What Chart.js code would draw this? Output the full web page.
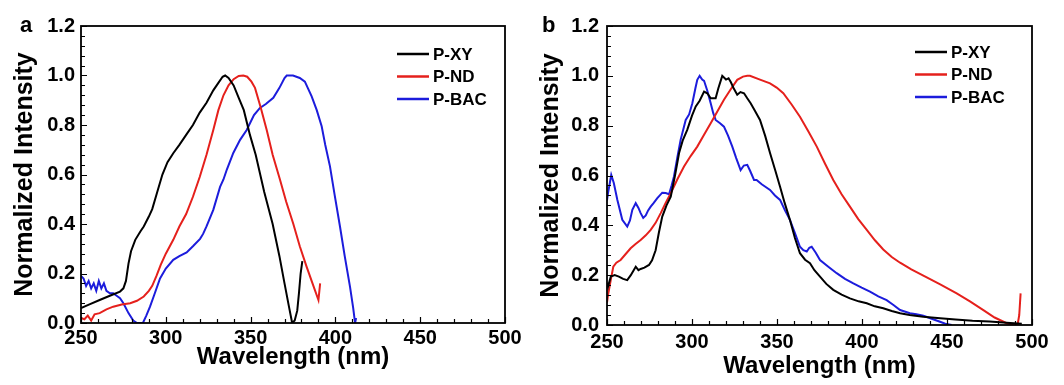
<!DOCTYPE html>
<html>
<head>
<meta charset="utf-8">
<script src="https://cdn.jsdelivr.net/npm/chart.js@4.4.1/dist/chart.umd.min.js"></script>
<style>
  body { margin: 0; background: #fff; font-family: "Liberation Sans", Arial, sans-serif; }
  #wrap { position: relative; width: 1064px; height: 385px; }
  canvas { position: absolute; top: 0; }
  .tag { position: absolute; font-weight: bold; font-size: 22px; line-height: 1; }
</style>
</head>
<body>
<div id="wrap">
  <canvas id="chartA" width="530" height="385" style="left:0"></canvas>
  <canvas id="chartB" width="534" height="385" style="left:530px"></canvas>
  <div class="tag" style="left:20px; top:14px">a</div>
  <div class="tag" style="left:542px; top:14px">b</div>
</div>
<script>
// series names and axis ticks
const seriesNames = ['P-XY', 'P-ND', 'P-BAC'];
const seriesColors = ['#000000', '#e5201c', '#1c1cdc'];
const xTicks = [250, 300, 350, 400, 450, 500];
const yTicks = [0, 0.2, 0.4, 0.6, 0.8, 1.0, 1.2];

// panel a (excitation)
const aWlXY = [250, 255, 261, 267, 273, 275, 276.5, 278, 279.5, 282, 285, 287, 290, 292, 295, 298, 301, 304.5, 308, 312, 316, 320, 324, 328, 331, 333.5, 335, 337, 340, 343, 346, 349.6, 353, 358, 363, 367, 370, 372.5, 374.5, 376, 377.5, 378.5, 379.5, 380.5];
const aInXY = [0.06, 0.075, 0.093, 0.11, 0.127, 0.14, 0.17, 0.24, 0.29, 0.336, 0.37, 0.39, 0.43, 0.46, 0.53, 0.6, 0.65, 0.687, 0.72, 0.76, 0.8, 0.85, 0.89, 0.94, 0.97, 0.995, 1.0, 0.99, 0.96, 0.91, 0.86, 0.76, 0.68, 0.53, 0.4, 0.27, 0.16, 0.07, 0.0, 0.01, 0.05, 0.12, 0.2, 0.25];

const aWlND = [250, 252, 254, 256, 258, 261, 265, 269, 274, 279, 283, 287, 290, 292, 294.5, 297, 300, 304.4, 308, 312, 316, 320, 324, 328, 331, 334, 337, 340, 343, 345.7, 348, 350.5, 352.6, 356, 359.5, 363, 367.3, 371, 375.2, 379, 383, 386.5, 390, 391];
const aInND = [0.02, 0.015, 0.03, 0.01, 0.035, 0.04, 0.055, 0.066, 0.075, 0.08, 0.09, 0.107, 0.13, 0.15, 0.19, 0.235, 0.28, 0.336, 0.39, 0.44, 0.51, 0.59, 0.68, 0.78, 0.86, 0.92, 0.96, 0.985, 0.998, 1.0, 0.995, 0.975, 0.95, 0.87, 0.78, 0.68, 0.58, 0.49, 0.4, 0.31, 0.228, 0.16, 0.093, 0.16];

const aWlBAC = [250, 251.5, 253, 254.5, 256, 257.5, 259, 260.5, 262, 263.5, 265, 267, 269, 271, 273, 275, 278, 280.8, 283, 286.5, 288.5, 290.7, 293, 296.6, 300, 304.4, 308, 312.3, 316, 320.2, 322, 324, 328, 332, 334, 336, 339.8, 343.8, 347.7, 352, 355.5, 359, 363.4, 367, 370, 371.3, 375, 379, 382, 386, 389, 391.9, 394, 396.8, 399.5, 402.7, 405.5, 408.6, 410.5, 411.6, 412.2];
const aInBAC = [0.19, 0.18, 0.15, 0.17, 0.14, 0.16, 0.13, 0.17, 0.14, 0.16, 0.13, 0.12, 0.12, 0.11, 0.1, 0.08, 0.04, 0.01, 0.0, 0.0, 0.03, 0.066, 0.11, 0.18, 0.22, 0.255, 0.27, 0.285, 0.31, 0.34, 0.36, 0.39, 0.457, 0.55, 0.58, 0.62, 0.687, 0.74, 0.78, 0.84, 0.869, 0.885, 0.91, 0.95, 0.99, 1.0, 1.0, 0.99, 0.975, 0.916, 0.86, 0.795, 0.72, 0.633, 0.52, 0.39, 0.27, 0.147, 0.06, 0.0, 0.02];

// panel b (emission)
const bWlXY = [250, 250.6, 252.2, 254.5, 257, 259.5, 261.9, 264, 266.9, 268.5, 269.8, 272, 274.7, 276.5, 278.6, 280.5, 282.5, 285, 287.5, 290, 292.4, 294.5, 297.2, 300, 302.2, 304.5, 307.1, 309, 311, 313.9, 315.5, 317.8, 320, 321.5, 322.8, 324.5, 326.6, 328.5, 330.6, 332.5, 334.5, 337, 340, 343, 345.9, 349, 351.8, 354.5, 357.6, 360.5, 363.5, 366.5, 369.4, 372, 375.3, 379, 383.1, 388, 392.9, 398, 402.8, 407.5, 412.5, 417.5, 422.4, 428, 436, 446, 455, 465, 475, 485, 494];
const bInXY = [0.17, 0.154, 0.194, 0.2, 0.194, 0.185, 0.18, 0.2, 0.234, 0.22, 0.225, 0.23, 0.241, 0.26, 0.3, 0.37, 0.435, 0.48, 0.515, 0.6, 0.69, 0.74, 0.783, 0.84, 0.877, 0.9, 0.937, 0.93, 0.91, 0.91, 0.95, 1.0, 0.985, 0.99, 0.975, 0.95, 0.924, 0.935, 0.93, 0.91, 0.89, 0.86, 0.823, 0.76, 0.69, 0.62, 0.555, 0.49, 0.422, 0.35, 0.288, 0.262, 0.248, 0.22, 0.194, 0.165, 0.141, 0.122, 0.107, 0.095, 0.087, 0.075, 0.067, 0.056, 0.047, 0.04, 0.033, 0.027, 0.022, 0.017, 0.014, 0.009, 0.005];

const bWlND = [250, 250.6, 252.2, 253.7, 255.5, 258, 261, 263.9, 266.8, 269.8, 272.8, 275.7, 278.6, 281.6, 284.5, 287.5, 291.4, 295.3, 299.2, 303.1, 307, 311, 314.9, 318.8, 322.7, 326.6, 330, 332.5, 334.1, 340, 345.9, 349.8, 353.7, 358.6, 363.5, 368.4, 373.4, 378.2, 383.1, 388, 392.9, 397.8, 402.8, 407.6, 412.5, 417.5, 422.4, 429, 436.1, 446, 455.7, 463.5, 471.4, 478, 485.1, 489, 491.5, 492.5, 493.3];
const bInND = [0.09, 0.12, 0.18, 0.234, 0.25, 0.261, 0.285, 0.308, 0.325, 0.341, 0.36, 0.382, 0.41, 0.449, 0.49, 0.529, 0.585, 0.636, 0.678, 0.716, 0.763, 0.81, 0.857, 0.904, 0.945, 0.984, 0.997, 1.0, 1.0, 0.985, 0.97, 0.953, 0.93, 0.885, 0.836, 0.778, 0.716, 0.648, 0.582, 0.525, 0.475, 0.425, 0.382, 0.34, 0.303, 0.273, 0.25, 0.223, 0.198, 0.163, 0.127, 0.095, 0.06, 0.03, 0.007, 0.0, 0.0, 0.04, 0.127];

const bWlBAC = [250, 250.6, 252.5, 254, 256.1, 259, 261.9, 263.5, 264.9, 266.9, 268.5, 269.8, 271.3, 272.8, 274.2, 275.7, 277.5, 279.6, 282.5, 284.5, 286.5, 288, 289.4, 291.3, 293.3, 296.3, 298.3, 300.2, 302, 303.1, 304.5, 306, 307.1, 309, 311, 312.5, 313.9, 316.5, 318.8, 321.2, 323.7, 326, 328.6, 330.5, 332.5, 334.1, 336.5, 338, 341, 345.9, 348.8, 351.8, 354.7, 357.6, 360.5, 363.5, 365.5, 367.5, 369, 370.4, 372.8, 375.3, 380, 385.1, 390, 394.9, 399.8, 404.7, 409.6, 414.5, 418.5, 422.4, 428.2, 432, 436.1, 441, 445.9, 449, 452.8];
const bInBAC = [0.5, 0.529, 0.602, 0.57, 0.502, 0.422, 0.395, 0.42, 0.462, 0.489, 0.47, 0.449, 0.43, 0.44, 0.46, 0.475, 0.49, 0.509, 0.531, 0.53, 0.525, 0.56, 0.596, 0.67, 0.743, 0.823, 0.845, 0.89, 0.95, 0.984, 1.0, 0.985, 0.98, 0.94, 0.89, 0.85, 0.823, 0.81, 0.796, 0.76, 0.716, 0.67, 0.622, 0.64, 0.643, 0.62, 0.582, 0.582, 0.565, 0.542, 0.52, 0.502, 0.46, 0.422, 0.37, 0.314, 0.3, 0.295, 0.31, 0.314, 0.29, 0.261, 0.235, 0.208, 0.185, 0.167, 0.15, 0.134, 0.115, 0.1, 0.08, 0.06, 0.047, 0.043, 0.037, 0.025, 0.013, 0.005, 0.0];

const FONT = '"Liberation Sans", Arial, sans-serif';

function pairs(xs, ys) {
  return xs.map((x, i) => ({ x: x, y: ys[i] }));
}

// box frame, inward ticks and the legend
const framePlugin = {
  id: 'frame',
  afterDraw(chart, args, opts) {
    const { ctx, chartArea: a } = chart;
    const x = chart.scales.x, y = chart.scales.y;
    ctx.save();
    ctx.strokeStyle = '#000';
    ctx.lineWidth = 1.2;
    ctx.beginPath();
    for (let v = x.min; v <= x.max + 0.001; v += 10) {
      const px = Math.round(x.getPixelForValue(v)) + 0.5;
      const len = (v - x.min) % 50 === 0 ? 6 : 4;
      ctx.moveTo(px, a.bottom);
      ctx.lineTo(px, a.bottom - len);
    }
    for (let k = 0; k <= 30; k++) {
      const py = Math.round(y.getPixelForValue(k * 0.04)) + 0.5;
      const len = k % 5 === 0 ? 6 : 4;
      ctx.moveTo(a.left, py);
      ctx.lineTo(a.left + len, py);
    }
    ctx.stroke();
    ctx.lineWidth = 1.8;
    ctx.strokeRect(a.left, a.top, a.right - a.left, a.bottom - a.top);

    // legend
    ctx.font = 'bold 17px ' + FONT;
    ctx.textBaseline = 'middle';
    ctx.textAlign = 'left';
    chart.data.datasets.forEach((ds, i) => {
      const ly = opts.top + i * opts.gap;
      ctx.strokeStyle = ds.borderColor;
      ctx.lineWidth = 2.5;
      ctx.beginPath();
      ctx.moveTo(opts.left, ly);
      ctx.lineTo(opts.left + 32, ly);
      ctx.stroke();
      ctx.fillStyle = '#000';
      ctx.fillText(ds.label, opts.left + 36, ly + 1);
    });
    ctx.restore();
  }
};

function makeChart(id, sets, cfg) {
  const datasets = sets.map((s, i) => ({
    label: seriesNames[i],
    data: pairs(s[0], s[1]),
    borderColor: seriesColors[i],
    borderWidth: 2,
    pointRadius: 0,
    tension: 0,
    fill: false
  }));
  return new Chart(document.getElementById(id), {
    type: 'line',
    data: { datasets },
    plugins: [framePlugin],
    options: {
      responsive: false,
      animation: false,
      layout: { padding: { top: 26, right: cfg.right, left: 0, bottom: 0 } },
      plugins: {
        legend: { display: false },
        tooltip: { enabled: false },
        frame: cfg.legend
      },
      scales: {
        x: {
          type: 'linear',
          min: 250,
          max: 500,
          afterBuildTicks: (s) => { s.ticks = xTicks.map(v => ({ value: v })); },
          afterFit: (s) => { s.height = cfg.xHeight; },
          grid: { display: false, drawTicks: false },
          border: { display: false },
          ticks: {
            color: '#000',
            padding: cfg.xPad,
            maxRotation: 0,
            font: { family: FONT, size: 20, weight: 'bold' }
          },
          title: {
            display: true,
            text: 'Wavelength (nm)',
            color: '#000',
            font: { family: FONT, size: 24, weight: 'bold' },
            padding: { top: 0, bottom: cfg.xTitlePad }
          }
        },
        y: {
          min: 0,
          max: 1.2,
          afterBuildTicks: (s) => { s.ticks = yTicks.map(v => ({ value: v })); },
          afterFit: (s) => { s.width = cfg.yWidth; },
          grid: { display: false, drawTicks: false },
          border: { display: false },
          ticks: {
            color: '#000',
            padding: cfg.yPad,
            callback: (v) => Number(v).toFixed(1),
            font: { family: FONT, size: 20, weight: 'bold' }
          },
          title: {
            display: true,
            text: 'Normalized Intensity',
            color: '#000',
            font: { family: FONT, size: 25, weight: 'bold' },
            padding: { top: cfg.yTitlePad, bottom: 0 }
          }
        }
      }
    }
  });
}

makeChart('chartA', [[aWlXY, aInXY], [aWlND, aInND], [aWlBAC, aInBAC]], {
  right: 25, xHeight: 62, yWidth: 81, xPad: 3, yPad: 6, xTitlePad: 13, yTitlePad: 10,
  legend: { left: 397, top: 54, gap: 22.5 }
});

makeChart('chartB', [[bWlXY, bInXY], [bWlND, bInND], [bWlBAC, bInBAC]], {
  right: 32, xHeight: 60, yWidth: 77, xPad: 5, yPad: 8, xTitlePad: 4, yTitlePad: 6,
  legend: { left: 385, top: 52, gap: 22.5 }
});
</script>
</body>
</html>
